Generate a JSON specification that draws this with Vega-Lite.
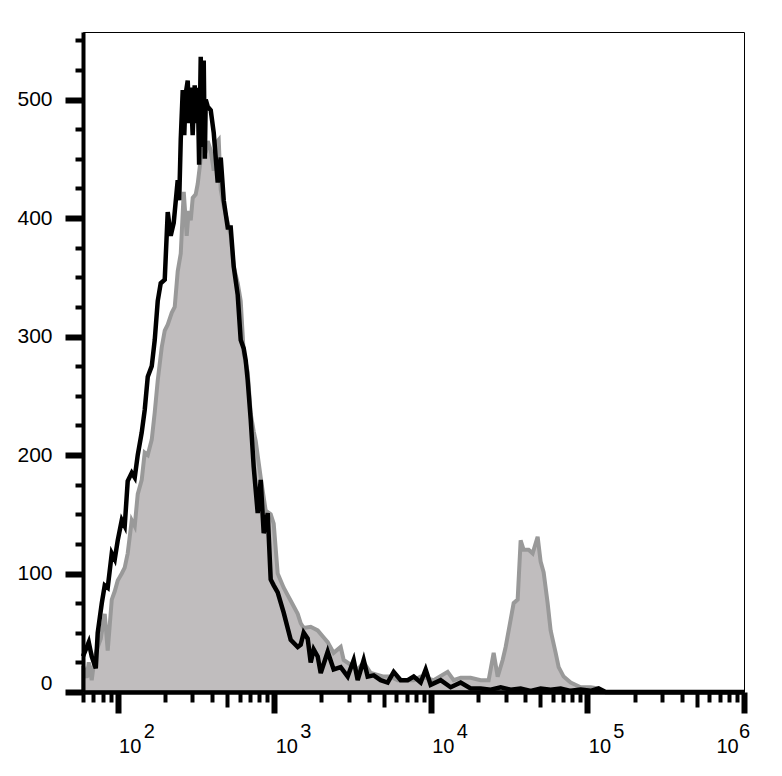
{
  "$schema": "https://vega.github.io/schema/vega-lite/v6.json",
  "width": 661,
  "height": 660,
  "autosize": "none",
  "padding": {"left": 83, "top": 32, "right": 38, "bottom": 84},
  "background": "white",
  "config": {"view": {"stroke": "black", "strokeWidth": 1}, "axis": {"grid": false}},
  "datasets": {
    "gray": [
      {"x":60,"c":22},{"x":63.4,"c":12},{"x":65.3,"c":25},{"x":68.2,"c":10},{"x":71.3,"c":30},{"x":74.5,"c":38},{"x":77.9,"c":45},{"x":82.6,"c":66},{"x":86.3,"c":35},{"x":91.6,"c":78},{"x":95.7,"c":85},{"x":100,"c":94},{"x":106.1,"c":100},{"x":110.8,"c":105},{"x":115.8,"c":117},{"x":122.9,"c":145},{"x":128.4,"c":140},{"x":134.2,"c":167},{"x":142.3,"c":179},{"x":148.7,"c":202},{"x":155.5,"c":200},{"x":164.9,"c":213},{"x":172.3,"c":236},{"x":180.1,"c":263},{"x":191,"c":291},{"x":199.6,"c":305},{"x":208.6,"c":310},{"x":221.2,"c":320},{"x":231.2,"c":325},{"x":241.6,"c":355},{"x":252.6,"c":370},{"x":264,"c":422},{"x":275.8,"c":385},{"x":284,"c":406},{"x":292.6,"c":398},{"x":301.3,"c":417},{"x":314.8,"c":420},{"x":324.3,"c":429},{"x":338.9,"c":450},{"x":349,"c":463},{"x":364.8,"c":455},{"x":375.6,"c":465},{"x":392.6,"c":457},{"x":410.3,"c":440},{"x":422.6,"c":463},{"x":441.6,"c":466},{"x":454.8,"c":424},{"x":475.3,"c":410},{"x":504.1,"c":396},{"x":526.8,"c":385},{"x":550.5,"c":359},{"x":583.9,"c":345},{"x":610.2,"c":330},{"x":637.7,"c":286},{"x":676.3,"c":270},{"x":706.8,"c":235},{"x":738.6,"c":220},{"x":760.6,"c":212},{"x":818.8,"c":181},{"x":881.2,"c":153},{"x":948.4,"c":150},{"x":991.3,"c":142},{"x":1051,"c":100},{"x":1148,"c":88},{"x":1273,"c":77},{"x":1411,"c":66},{"x":1475,"c":58},{"x":1541,"c":54},{"x":1708,"c":55},{"x":1893,"c":52},{"x":2068,"c":46},{"x":2193,"c":42},{"x":2394,"c":33},{"x":2655,"c":38},{"x":2774,"c":27},{"x":3075,"c":23},{"x":3409,"c":19},{"x":3723,"c":25},{"x":4127,"c":16},{"x":4995,"c":13},{"x":5538,"c":13},{"x":6138,"c":10},{"x":7111,"c":10},{"x":7770,"c":10},{"x":8608,"c":13},{"x":10420,"c":10},{"x":12800,"c":17},{"x":13980,"c":10},{"x":15500,"c":12},{"x":17960,"c":12},{"x":20800,"c":10},{"x":23390,"c":10},{"x":25180,"c":33},{"x":26710,"c":13},{"x":28740,"c":27},{"x":30040,"c":38},{"x":32330,"c":61},{"x":33790,"c":75},{"x":35840,"c":78},{"x":37450,"c":128},{"x":39130,"c":120},{"x":42120,"c":120},{"x":44670,"c":117},{"x":48080,"c":131},{"x":50250,"c":110},{"x":52520,"c":101},{"x":55690,"c":75},{"x":58210,"c":52},{"x":62660,"c":33},{"x":65490,"c":21},{"x":70470,"c":13},{"x":78120,"c":8},{"x":90500,"c":4},{"x":104800,"c":4},{"x":116200,"c":3},{"x":121400,"c":0},{"x":1000000,"c":0}
    ],
    "black": [
      {"x":60,"c":30},{"x":65.3,"c":42},{"x":68.2,"c":30},{"x":72.4,"c":20},{"x":74.5,"c":50},{"x":79.1,"c":75},{"x":82.6,"c":90},{"x":86.3,"c":88},{"x":91.6,"c":117},{"x":95.7,"c":112},{"x":100,"c":128},{"x":106.1,"c":145},{"x":110.8,"c":140},{"x":115.8,"c":178},{"x":122.9,"c":185},{"x":128.4,"c":181},{"x":134.2,"c":200},{"x":142.3,"c":219},{"x":148.7,"c":238},{"x":155.5,"c":266},{"x":164.9,"c":275},{"x":172.3,"c":297},{"x":180.1,"c":330},{"x":188.2,"c":345},{"x":199.6,"c":348},{"x":208.6,"c":405},{"x":218,"c":385},{"x":227.8,"c":396},{"x":241.6,"c":432},{"x":247,"c":415},{"x":252.6,"c":466},{"x":260.1,"c":508},{"x":266,"c":470},{"x":271.8,"c":505},{"x":279.9,"c":516},{"x":286,"c":480},{"x":292.6,"c":510},{"x":301,"c":470},{"x":310.2,"c":512},{"x":317,"c":480},{"x":324.3,"c":510},{"x":331,"c":445},{"x":338.9,"c":536},{"x":346,"c":460},{"x":354.2,"c":533},{"x":360,"c":450},{"x":364.8,"c":500},{"x":375.6,"c":494},{"x":392.6,"c":491},{"x":410.3,"c":472},{"x":435.1,"c":430},{"x":454.8,"c":451},{"x":475.3,"c":415},{"x":504.1,"c":392},{"x":526.8,"c":392},{"x":550.5,"c":359},{"x":583.9,"c":335},{"x":610.2,"c":297},{"x":637.7,"c":290},{"x":656.7,"c":280},{"x":676.3,"c":263},{"x":706.8,"c":230},{"x":738.6,"c":190},{"x":783.4,"c":151},{"x":818.8,"c":179},{"x":855.6,"c":134},{"x":907.6,"c":151},{"x":948.4,"c":95},{"x":991.3,"c":90},{"x":1051,"c":84},{"x":1148,"c":67},{"x":1273,"c":44},{"x":1411,"c":38},{"x":1475,"c":40},{"x":1541,"c":50},{"x":1634,"c":45},{"x":1708,"c":25},{"x":1785,"c":36},{"x":1893,"c":30},{"x":1979,"c":16},{"x":2193,"c":34},{"x":2394,"c":19},{"x":2655,"c":21},{"x":2942,"c":13},{"x":3214,"c":27},{"x":3409,"c":10},{"x":3723,"c":27},{"x":3948,"c":13},{"x":4313,"c":14},{"x":4779,"c":10},{"x":5297,"c":8},{"x":5788,"c":17},{"x":6415,"c":10},{"x":7111,"c":10},{"x":7770,"c":13},{"x":8608,"c":8},{"x":9265,"c":19},{"x":9970,"c":6},{"x":11550,"c":10},{"x":13380,"c":4},{"x":15500,"c":8},{"x":17960,"c":3},{"x":20800,"c":3},{"x":24090,"c":2},{"x":27910,"c":4},{"x":32330,"c":2},{"x":37450,"c":3},{"x":43380,"c":1},{"x":50250,"c":3},{"x":58210,"c":2},{"x":67440,"c":3},{"x":78120,"c":1},{"x":90500,"c":2},{"x":104800,"c":1},{"x":117900,"c":3},{"x":130700,"c":0},{"x":1000000,"c":0}
    ]
  },
  "layer": [
    {
      "data": {"name": "gray"},
      "mark": {"type": "area", "color": "#c0bdbe", "stroke": "#999999", "strokeWidth": 4, "fillOpacity": 1},
      "encoding": {
        "x": {
          "field": "x", "type": "quantitative",
          "scale": {"type": "log", "domain": [60, 1000000], "nice": false},
          "axis": {
            "orient": "bottom", "title": null,
            "values": [60,70,80,90,100,200,300,400,500,600,700,800,900,1000,2000,3000,4000,5000,6000,7000,8000,9000,10000,20000,30000,40000,50000,60000,70000,80000,90000,100000,200000,300000,400000,500000,600000,700000,800000,900000,1000000],
            "domainColor": "black", "domainWidth": 4.5, "tickColor": "black",
            "tickSize": {"condition": [{"test": "indexof([100,1000,10000,100000,1000000], datum.value) >= 0", "value": 21}, {"test": "indexof([500,5000,50000,500000], datum.value) >= 0", "value": 15}], "value": 10},
            "tickWidth": {"condition": {"test": "indexof([100,1000,10000,100000,1000000], datum.value) >= 0", "value": 6}, "value": 4},
            "labelExpr": "indexof([100,1000,10000,100000,1000000], datum.value) >= 0 ? '10' : ''",
            "labelFont": "Liberation Sans", "labelFontSize": 20, "labelColor": "black",
            "labelAlign": "center", "labelBaseline": "top", "labelPadding": 23,
            "labelOffset": {"condition": {"test": "datum.value === 1000000", "value": -17}, "value": 12},
            "labelOverlap": false, "labelBound": false, "labelFlush": false, "zindex": 1
          }
        },
        "y": {
          "field": "c", "type": "quantitative",
          "scale": {"domain": [0, 557], "nice": false},
          "axis": {
            "orient": "left", "title": null,
            "values": [0,25,50,75,100,125,150,175,200,225,250,275,300,325,350,375,400,425,450,475,500,525,550],
            "domainColor": "black", "domainWidth": 4, "tickColor": "black",
            "tickSize": {"condition": {"test": "datum.value % 100 === 0", "value": 18}, "value": 8},
            "tickWidth": {"condition": {"test": "datum.value % 100 === 0", "value": 6}, "value": 4},
            "labelExpr": "datum.value % 100 === 0 ? format(datum.value, 'd') : ''",
            "labelFont": "Liberation Sans", "labelFontSize": 21, "labelColor": "black", "labelPadding": 13,
            "labelOffset": {"condition": {"test": "datum.value === 0", "value": -9}, "value": 0},
            "labelOverlap": false, "labelBound": false, "labelFlush": false, "zindex": 1
          }
        }
      }
    },
    {
      "data": {"name": "black"},
      "mark": {"type": "line", "color": "black", "strokeWidth": 4.5},
      "encoding": {
        "x": {
          "field": "x", "type": "quantitative",
          "scale": {"type": "log", "domain": [60, 1000000], "nice": false},
          "axis": {
            "orient": "bottom", "title": null,
            "values": [100,1000,10000,100000,1000000],
            "domain": false, "ticks": false, "tickSize": 0,
            "labelExpr": "'' + round(log(datum.value) / LN10)",
            "labelFont": "Liberation Sans", "labelFontSize": 20, "labelColor": "black",
            "labelAlign": "center", "labelBaseline": "top", "labelPadding": 29,
            "labelOffset": {"condition": {"test": "datum.value === 1000000", "value": 0}, "value": 31},
            "labelOverlap": false, "labelBound": false, "labelFlush": false, "zindex": 1
          }
        },
        "y": {
          "field": "c", "type": "quantitative",
          "scale": {"domain": [0, 557], "nice": false},
          "axis": {
            "orient": "left", "title": null,
            "values": [0,25,50,75,100,125,150,175,200,225,250,275,300,325,350,375,400,425,450,475,500,525,550],
            "domainColor": "black", "domainWidth": 4, "tickColor": "black",
            "tickSize": {"condition": {"test": "datum.value % 100 === 0", "value": 18}, "value": 8},
            "tickWidth": {"condition": {"test": "datum.value % 100 === 0", "value": 6}, "value": 4},
            "labelExpr": "datum.value % 100 === 0 ? format(datum.value, 'd') : ''",
            "labelFont": "Liberation Sans", "labelFontSize": 21, "labelColor": "black", "labelPadding": 13,
            "labelOffset": {"condition": {"test": "datum.value === 0", "value": -9}, "value": 0},
            "labelOverlap": false, "labelBound": false, "labelFlush": false, "zindex": 1
          }
        }
      }
    }
  ],
  "resolve": {"axis": {"x": "independent"}}
}
